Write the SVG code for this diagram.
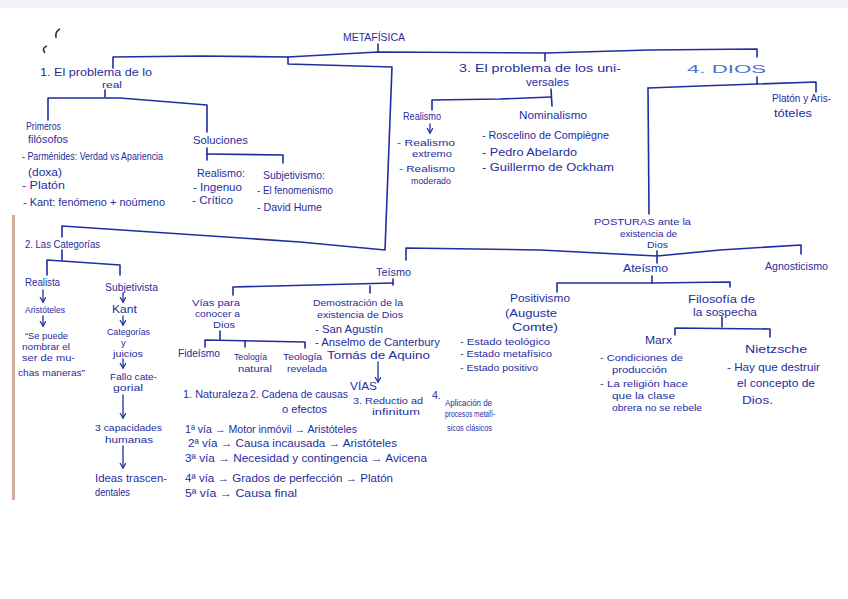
<svg xmlns="http://www.w3.org/2000/svg" width="848" height="599" viewBox="0 0 848 599">
<style>
.t{font-family:"Liberation Sans",Arial,sans-serif;font-size:10.5px;fill:#1f2d9e;}
.s{font-size:9.5px;}
.l{fill:#4f6fd0;}
.c{fill:none;stroke:#1f2d9e;stroke-width:1.6;stroke-linecap:round;stroke-linejoin:round;}
.a{fill:none;stroke:#1f2d9e;stroke-width:1.3;stroke-linecap:round;}
</style>
<defs>
<marker id="ah" markerWidth="8" markerHeight="8" refX="5" refY="3" orient="auto" markerUnits="userSpaceOnUse">
<path d="M0,0 L5,3 L0,6" fill="none" stroke="#1f2d9e" stroke-width="1.2"/>
</marker>
</defs>
<rect x="0" y="0" width="848" height="599" fill="#ffffff"/>
<rect x="0" y="0" width="848" height="8" fill="#f3f4fa"/>
<rect x="12" y="215" width="3" height="285" fill="#b07a5a" opacity="0.6"/>
<path d="M56,38 Q55,31 60,29" fill="none" stroke="#333" stroke-width="1.6"/>
<path d="M45,53 Q41,48 47,46" fill="none" stroke="#333" stroke-width="1.6"/>

<g id="connectors">
<polyline class="c" points="378,44 378,52"/>
<polyline class="c" points="113,68 113,57 200,56 288,57 378,52 545,53 650,50 757,49 757,57"/>
<polyline class="c" points="545,53 545,61"/>
<polyline class="c" points="288,57 288,64 392,67 385,250 300,242 62,226 62,237"/>
<polyline class="c" points="105,90 105,97"/>
<polyline class="c" points="48,120 48,98 120,98 207,105 207,132"/>
<polyline class="c" points="207,148 207,160"/>
<polyline class="c" points="207,154 283,155 283,163"/>
<polyline class="c" points="551,89 552,106"/>
<polyline class="c" points="432,110 432,100 500,99 551,97"/>
<line class="a" x1="430" y1="124" x2="430" y2="133" marker-end="url(#ah)"/>
<polyline class="c" points="757,77 757,84"/>
<polyline class="c" points="648,88 700,86 816,82 816,92"/>
<polyline class="c" points="648,88 649,214"/>
<polyline class="c" points="657,251 657,263"/>
<polyline class="c" points="406,260 406,248 540,250 657,256 720,250 801,245 801,254"/>
<polyline class="c" points="393,279 393,285"/>
<polyline class="c" points="233,295 233,287 393,283"/>
<polyline class="c" points="370,286 370,293"/>
<polyline class="c" points="220,331 220,340"/>
<polyline class="c" points="205,347 205,340 305,342 305,348"/>
<polyline class="c" points="245,341 245,347"/>
<line class="a" x1="378" y1="362" x2="378" y2="382" marker-end="url(#ah)"/>
<polyline class="c" points="652,276 652,283"/>
<polyline class="c" points="557,292 557,283 652,283 730,282 730,287"/>
<polyline class="c" points="722,317 722,327"/>
<polyline class="c" points="675,335 675,328 770,329 770,337"/>
<polyline class="c" points="62,250 62,260"/>
<polyline class="c" points="47,275 47,260 120,265 120,275"/>
<line class="a" x1="43" y1="290" x2="43" y2="302" marker-end="url(#ah)"/>
<line class="a" x1="43" y1="316" x2="43" y2="326" marker-end="url(#ah)"/>
<line class="a" x1="123" y1="293" x2="123" y2="302" marker-end="url(#ah)"/>
<line class="a" x1="123" y1="316" x2="123" y2="325" marker-end="url(#ah)"/>
<line class="a" x1="123" y1="359" x2="123" y2="368" marker-end="url(#ah)"/>
<line class="a" x1="123" y1="395" x2="123" y2="418" marker-end="url(#ah)"/>
<line class="a" x1="123" y1="446" x2="123" y2="468" marker-end="url(#ah)"/>
</g>

<g id="metafisica"><text class="t" x="343" y="41" font-size="11.5" textLength="62" lengthAdjust="spacingAndGlyphs">METAFÍSICA</text></g>

<g id="problema-real">
<text class="t" x="40" y="76" textLength="112" lengthAdjust="spacingAndGlyphs">1. El problema de lo</text>
<text class="t s" x="102" y="88" textLength="20" lengthAdjust="spacingAndGlyphs">real</text>
</g>
<g id="primeros-filosofos">
<text class="t" x="26" y="130" textLength="35" lengthAdjust="spacingAndGlyphs">Primeros</text>
<text class="t" x="28" y="143" textLength="40" lengthAdjust="spacingAndGlyphs">filósofos</text>
<text class="t" x="22" y="160" textLength="141" lengthAdjust="spacingAndGlyphs">- Parménides: Verdad vs Apariencia</text>
<text class="t" x="28" y="176" textLength="34" lengthAdjust="spacingAndGlyphs">(doxa)</text>
<text class="t" x="22" y="189" textLength="43" lengthAdjust="spacingAndGlyphs">- Platón</text>
<text class="t" x="23" y="206" textLength="142" lengthAdjust="spacingAndGlyphs">- Kant: fenómeno + noúmeno</text>
</g>
<g id="soluciones"><text class="t" x="193" y="144" textLength="55" lengthAdjust="spacingAndGlyphs">Soluciones</text></g>
<g id="realismo-sol">
<text class="t" x="197" y="177" textLength="48" lengthAdjust="spacingAndGlyphs">Realismo:</text>
<text class="t" x="193" y="191" textLength="49" lengthAdjust="spacingAndGlyphs">- Ingenuo</text>
<text class="t" x="192" y="204" textLength="41" lengthAdjust="spacingAndGlyphs">- Crítico</text>
</g>
<g id="subjetivismo-sol">
<text class="t" x="263" y="179" textLength="62" lengthAdjust="spacingAndGlyphs">Subjetivismo:</text>
<text class="t" x="257" y="194" textLength="76" lengthAdjust="spacingAndGlyphs">- El fenomenismo</text>
<text class="t" x="257" y="211" textLength="65" lengthAdjust="spacingAndGlyphs">- David Hume</text>
</g>

<g id="categorias"><text class="t" x="25" y="248" textLength="75" lengthAdjust="spacingAndGlyphs">2. Las Categorías</text></g>
<g id="realista"><text class="t" x="25" y="286" textLength="35" lengthAdjust="spacingAndGlyphs">Realista</text></g>
<g id="aristoteles"><text class="t s" x="25" y="313" textLength="40" lengthAdjust="spacingAndGlyphs">Aristóteles</text></g>
<g id="cita">
<text class="t s" x="25" y="339" textLength="43" lengthAdjust="spacingAndGlyphs">“Se puede</text>
<text class="t s" x="22" y="350" textLength="48" lengthAdjust="spacingAndGlyphs">nombrar el</text>
<text class="t s" x="22" y="361" textLength="53" lengthAdjust="spacingAndGlyphs">ser de mu-</text>
<text class="t s" x="18" y="376" textLength="67" lengthAdjust="spacingAndGlyphs">chas maneras”</text>
</g>
<g id="subjetivista"><text class="t" x="105" y="291" textLength="53" lengthAdjust="spacingAndGlyphs">Subjetivista</text></g>
<g id="kant"><text class="t" x="112" y="313" textLength="25" lengthAdjust="spacingAndGlyphs">Kant</text></g>
<g id="categorias-juicios">
<text class="t s" x="107" y="335" textLength="43" lengthAdjust="spacingAndGlyphs">Categorías</text>
<text class="t s" x="121" y="346">y</text>
<text class="t s" x="113" y="357" textLength="30" lengthAdjust="spacingAndGlyphs">juicios</text>
</g>
<g id="fallo">
<text class="t s" x="110" y="380" textLength="47" lengthAdjust="spacingAndGlyphs">Fallo cate-</text>
<text class="t s" x="113" y="391" textLength="30" lengthAdjust="spacingAndGlyphs">gorial</text>
</g>
<g id="capacidades">
<text class="t s" x="95" y="431" textLength="67" lengthAdjust="spacingAndGlyphs">3 capacidades</text>
<text class="t s" x="105" y="443" textLength="48" lengthAdjust="spacingAndGlyphs">humanas</text>
</g>
<g id="ideas">
<text class="t" x="95" y="482" textLength="72" lengthAdjust="spacingAndGlyphs">Ideas trascen-</text>
<text class="t" x="95" y="496" textLength="35" lengthAdjust="spacingAndGlyphs">dentales</text>
</g>

<g id="universales">
<text class="t" x="459" y="72" font-size="11" textLength="162" lengthAdjust="spacingAndGlyphs">3. El problema de los uni-</text>
<text class="t" x="526" y="86" textLength="43" lengthAdjust="spacingAndGlyphs">versales</text>
</g>
<g id="realismo-univ">
<text class="t" x="403" y="120" textLength="38" lengthAdjust="spacingAndGlyphs">Realismo</text>
<text class="t s" x="397" y="146" textLength="58" lengthAdjust="spacingAndGlyphs">- Realismo</text>
<text class="t s" x="412" y="157" textLength="40" lengthAdjust="spacingAndGlyphs">extremo</text>
<text class="t s" x="399" y="172" textLength="56" lengthAdjust="spacingAndGlyphs">- Realismo</text>
<text class="t s" x="411" y="184" textLength="40" lengthAdjust="spacingAndGlyphs">moderado</text>
</g>
<g id="nominalismo">
<text class="t" x="519" y="119" textLength="68" lengthAdjust="spacingAndGlyphs">Nominalismo</text>
<text class="t" x="482" y="139" textLength="127" lengthAdjust="spacingAndGlyphs">- Roscelino de Compiègne</text>
<text class="t" x="482" y="156" textLength="95" lengthAdjust="spacingAndGlyphs">- Pedro Abelardo</text>
<text class="t" x="482" y="171" textLength="132" lengthAdjust="spacingAndGlyphs">- Guillermo de Ockham</text>
</g>

<g id="dios"><text class="t l" x="687" y="73" font-size="12.5" textLength="79" lengthAdjust="spacingAndGlyphs">4. DIOS</text></g>
<g id="platon-aristoteles">
<text class="t" x="772" y="102" textLength="59" lengthAdjust="spacingAndGlyphs">Platón y Aris-</text>
<text class="t" x="774" y="117" textLength="38" lengthAdjust="spacingAndGlyphs">tóteles</text>
</g>
<g id="posturas">
<text class="t s" x="594" y="225" textLength="97" lengthAdjust="spacingAndGlyphs">POSTURAS ante la</text>
<text class="t s" x="620" y="237" textLength="57" lengthAdjust="spacingAndGlyphs">existencia de</text>
<text class="t s" x="647" y="248" textLength="21" lengthAdjust="spacingAndGlyphs">Dios</text>
</g>
<g id="teismo"><text class="t" x="376" y="276" textLength="35" lengthAdjust="spacingAndGlyphs">Teísmo</text></g>
<g id="ateismo"><text class="t" x="623" y="272" textLength="45" lengthAdjust="spacingAndGlyphs">Ateísmo</text></g>
<g id="agnosticismo"><text class="t" x="765" y="270" textLength="63" lengthAdjust="spacingAndGlyphs">Agnosticismo</text></g>

<g id="vias-conocer">
<text class="t s" x="192" y="306" textLength="48" lengthAdjust="spacingAndGlyphs">Vías para</text>
<text class="t s" x="195" y="317" textLength="45" lengthAdjust="spacingAndGlyphs">conocer a</text>
<text class="t s" x="213" y="328" textLength="22" lengthAdjust="spacingAndGlyphs">Dios</text>
</g>
<g id="demostracion">
<text class="t s" x="313" y="306" textLength="90" lengthAdjust="spacingAndGlyphs">Demostración de la</text>
<text class="t s" x="317" y="318" textLength="86" lengthAdjust="spacingAndGlyphs">existencia de Dios</text>
<text class="t" x="315" y="333" textLength="68" lengthAdjust="spacingAndGlyphs">- San Agustín</text>
<text class="t" x="315" y="346" textLength="125" lengthAdjust="spacingAndGlyphs">- Anselmo de Canterbury</text>
<text class="t" x="327" y="359" textLength="103" lengthAdjust="spacingAndGlyphs">Tomás de Aquino</text>
</g>
<g id="fideismo"><text class="t" x="178" y="357" textLength="42" lengthAdjust="spacingAndGlyphs">Fideísmo</text></g>
<g id="teologia-natural">
<text class="t s" x="234" y="360" textLength="33" lengthAdjust="spacingAndGlyphs">Teología</text>
<text class="t s" x="238" y="372" textLength="34" lengthAdjust="spacingAndGlyphs">natural</text>
</g>
<g id="teologia-revelada">
<text class="t s" x="283" y="360" textLength="39" lengthAdjust="spacingAndGlyphs">Teología</text>
<text class="t s" x="287" y="372" textLength="40" lengthAdjust="spacingAndGlyphs">revelada</text>
</g>
<g id="vias">
<text class="t" x="350" y="390" textLength="27" lengthAdjust="spacingAndGlyphs">VÍAS</text>
<text class="t" x="183" y="398" textLength="65" lengthAdjust="spacingAndGlyphs">1. Naturaleza</text>
<text class="t" x="250" y="398" textLength="98" lengthAdjust="spacingAndGlyphs">2. Cadena de causas</text>
<text class="t" x="282" y="413" textLength="45" lengthAdjust="spacingAndGlyphs">o efectos</text>
<text class="t s" x="353" y="404" textLength="70" lengthAdjust="spacingAndGlyphs">3. Reductio ad</text>
<text class="t s" x="372" y="415" textLength="48" lengthAdjust="spacingAndGlyphs">infinitum</text>
<text class="t" x="432" y="399">4.</text>
<text class="t s" x="445" y="406" textLength="47" lengthAdjust="spacingAndGlyphs">Aplicación de</text>
<text class="t s" x="445" y="417" textLength="50" lengthAdjust="spacingAndGlyphs">procesos metafí-</text>
<text class="t s" x="447" y="431" textLength="45" lengthAdjust="spacingAndGlyphs">sicos clásicos</text>
</g>
<g id="vias-lista">
<text class="t" x="185" y="433" textLength="172" lengthAdjust="spacingAndGlyphs">1ª vía → Motor inmóvil → Aristóteles</text>
<text class="t" x="188" y="447" textLength="209" lengthAdjust="spacingAndGlyphs">2ª vía → Causa incausada → Aristóteles</text>
<text class="t" x="185" y="462" textLength="242" lengthAdjust="spacingAndGlyphs">3ª vía → Necesidad y contingencia → Avicena</text>
<text class="t" x="185" y="482" textLength="208" lengthAdjust="spacingAndGlyphs">4ª vía → Grados de perfección → Platón</text>
<text class="t" x="185" y="497" textLength="112" lengthAdjust="spacingAndGlyphs">5ª vía → Causa final</text>
</g>

<g id="positivismo">
<text class="t" x="510" y="302" textLength="60" lengthAdjust="spacingAndGlyphs">Positivismo</text>
<text class="t" x="505" y="317" textLength="52" lengthAdjust="spacingAndGlyphs">(Auguste</text>
<text class="t" x="512" y="331" textLength="46" lengthAdjust="spacingAndGlyphs">Comte)</text>
<text class="t s" x="460" y="345" textLength="90" lengthAdjust="spacingAndGlyphs">- Estado teológico</text>
<text class="t s" x="460" y="357" textLength="92" lengthAdjust="spacingAndGlyphs">- Estado metafísico</text>
<text class="t s" x="460" y="371" textLength="78" lengthAdjust="spacingAndGlyphs">- Estado positivo</text>
</g>
<g id="sospecha">
<text class="t" x="688" y="303" textLength="67" lengthAdjust="spacingAndGlyphs">Filosofía de</text>
<text class="t" x="693" y="316" textLength="64" lengthAdjust="spacingAndGlyphs">la sospecha</text>
</g>
<g id="marx">
<text class="t" x="645" y="344" textLength="27" lengthAdjust="spacingAndGlyphs">Marx</text>
<text class="t s" x="600" y="361" textLength="83" lengthAdjust="spacingAndGlyphs">- Condiciones de</text>
<text class="t s" x="612" y="373" textLength="55" lengthAdjust="spacingAndGlyphs">producción</text>
<text class="t s" x="600" y="387" textLength="88" lengthAdjust="spacingAndGlyphs">- La religión hace</text>
<text class="t s" x="612" y="399" textLength="63" lengthAdjust="spacingAndGlyphs">que la clase</text>
<text class="t s" x="612" y="411" textLength="90" lengthAdjust="spacingAndGlyphs">obrera no se rebele</text>
</g>
<g id="nietzsche">
<text class="t" x="745" y="353" font-size="11" textLength="62" lengthAdjust="spacingAndGlyphs">Nietzsche</text>
<text class="t" x="727" y="371" textLength="93" lengthAdjust="spacingAndGlyphs">- Hay que destruir</text>
<text class="t" x="737" y="387" textLength="78" lengthAdjust="spacingAndGlyphs">el concepto de</text>
<text class="t" x="742" y="404" textLength="31" lengthAdjust="spacingAndGlyphs">Dios.</text>
</g>
</svg>
